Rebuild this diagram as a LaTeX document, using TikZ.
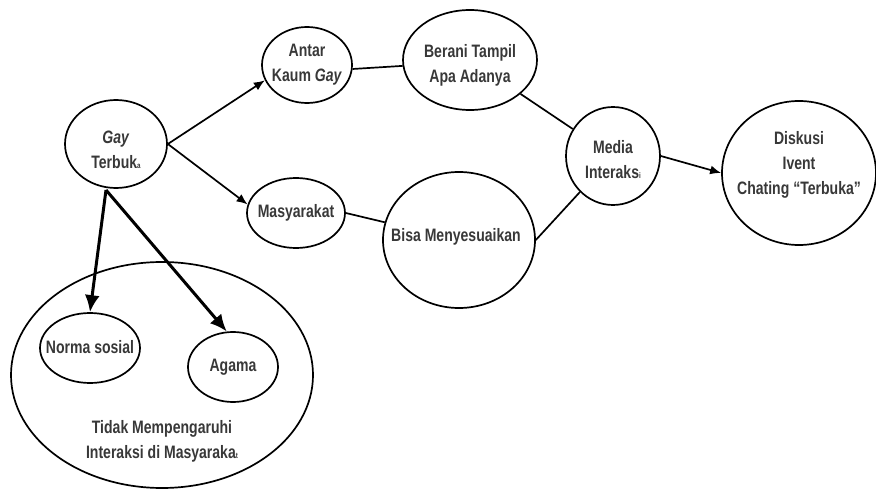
\documentclass[tikz,border=0pt]{standalone}
\usepackage{fontspec}
\setmainfont{Liberation Sans}[FakeStretch=0.78]
\usetikzlibrary{shapes.geometric,arrows.meta}
\newcommand{\smalllast}[1]{{\fontsize{8}{8}\selectfont #1}}
\tikzset{
  bub/.style={draw, line width=1.7pt, ellipse, inner sep=0pt},
  link/.style={line width=1.7pt},
  arr/.style={line width=1.7pt, -{Latex[length=11pt,width=9pt]}},
  bigarr/.style={line width=3pt, -{Latex[length=17pt,width=15pt]}},
  lbl/.style={align=center, inner sep=0pt, font=\bfseries\fontsize{18}{25}\selectfont, text=black!78}
}
\begin{document}
\begin{tikzpicture}[x=1pt,y=-1pt]
\useasboundingbox (0,0) rectangle (876,489);
\node[bub, minimum width=102pt, minimum height=88pt] (gay) at (116,144) {};
\node[lbl] (gaylbl) at (116,150) {\textit{Gay}\\Terbuk\smalllast{a}};
\node[bub, minimum width=90pt, minimum height=76pt] (antar) at (307,65) {};
\node[lbl] (antarlbl) at (307,65) {Antar\\Kaum \textit{Gay}};
\node[bub, minimum width=134pt, minimum height=100pt] (berani) at (470,60) {};
\node[lbl] (beranilbl) at (470,65) {Berani Tampil\\Apa Adanya};
\node[bub, minimum width=94pt, minimum height=98pt] (media) at (613,156) {};
\node[lbl] (medialbl) at (613,160) {Media\\Interaks\smalllast{i}};
\node[bub, minimum width=154pt, minimum height=144pt] (diskusi) at (799,173) {};
\node[lbl] (diskusilbl) at (799,165) {Diskusi\\Ivent\\Chating ``Terbuka''};
\node[bub, minimum width=98pt, minimum height=70pt] (masy) at (296,213) {};
\node[lbl] (masylbl) at (296,213) {Masyarakat};
\node[bub, minimum width=152pt, minimum height=136pt] (bisa) at (459,240) {};
\node[lbl] (bisalbl) at (456,237) {Bisa Menyesuaikan};
\node[bub, minimum width=302pt, minimum height=226pt] (tidak) at (162,375) {};
\node[bub, minimum width=100pt, minimum height=70pt] (norma) at (90,348) {};
\node[lbl] (normalbl) at (90,347) {Norma sosial};
\node[bub, minimum width=90pt, minimum height=70pt] (agama) at (233,367) {};
\node[lbl] (agamalbl) at (233,367) {Agama};
\node[lbl] (tidaklbl) at (162,441) {Tidak Mempengaruhi\\Interaksi di Masyaraka\smalllast{t}};
\coordinate (gs) at (106,190);
\draw[arr] (gay.east) -- (antar.200);
\draw[arr] (gay.east) -- (masy.170);
\draw[link] (antar.-5) -- (berani.185);
\draw[link] (berani) -- (media);
\draw[link] (masy.east) -- (bisa);
\draw[link] (bisa.east) -- (media);
\draw[arr] (media.east) -- (diskusi.west);
\draw[bigarr] (gs) -- (norma.north);
\draw[bigarr] (gs) -- (agama.100);
\end{tikzpicture}
\end{document}
